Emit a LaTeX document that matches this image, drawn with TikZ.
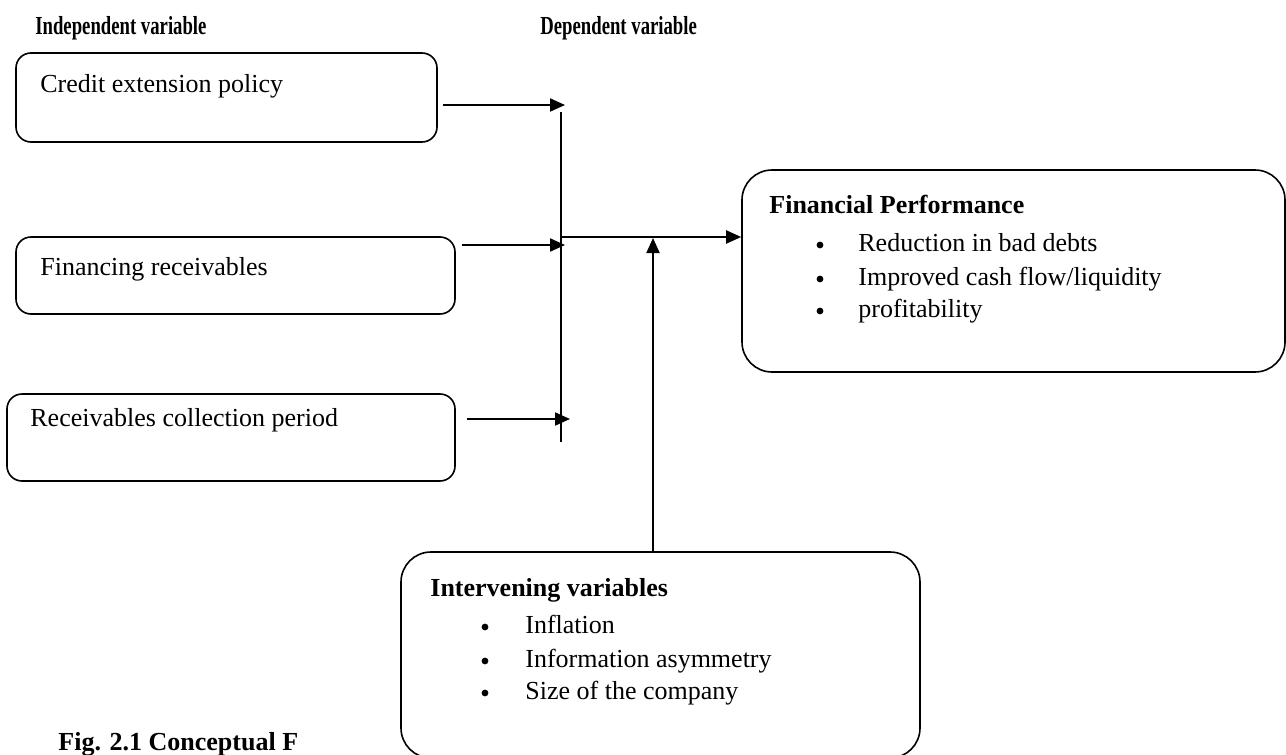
\documentclass[tikz,border=0pt]{standalone}
\usepackage{fontspec}
\setmainfont{Liberation Serif}
\usetikzlibrary{arrows.meta,fit}
\begin{document}
\begin{tikzpicture}[x=0.5pt,y=-0.5pt,
  box/.style={draw,line width=0.8pt,rounded corners=7.5pt,inner sep=0pt},
  bigbox/.style={draw,line width=0.8pt,rounded corners=15pt,inner sep=0pt,fill=white},
  arr/.style={line width=1pt,-{Triangle[length=7.5pt,width=6.5pt]}},
  txt/.style={anchor=base west,inner sep=0pt,font=\fontsize{13}{15}\selectfont},
  hdr/.style={anchor=base west,inner sep=0pt,font=\fontsize{13}{15}\selectfont\bfseries},
  dot/.style={circle,fill,inner sep=0pt,minimum size=3.4pt}]
\useasboundingbox (0,0) rectangle (1286,755);
% headers
\node[hdr] (h1) at (35,34) {\scalebox{0.72}[1]{Independent variable}};
\node[hdr] (h2) at (540,34) {\scalebox{0.72}[1]{Dependent variable}};
% independent boxes
\node[box,fit={(16,53) (437,142)}] (b1) {};
\node[txt] (t1) at (40,92) {Credit extension policy};
\node[box,fit={(16,237) (455,314)}] (b2) {};
\node[txt] (t2) at (40,275) {Financing receivables};
\node[box,fit={(7,394) (455,481)}] (b3) {};
\node[txt] (t3) at (30,426) {Receivables collection period};
% dependent box
\node[bigbox,fit={(742,170) (1285,372)}] (fin) {};
\node[hdr] (ft) at (769,213) {Financial Performance};
\node[dot] (fb1) at (820,245) {};
\node[txt] (f1) at (858,251) {Reduction in bad debts};
\node[dot] (fb2) at (820,279) {};
\node[txt] (f2) at (858,285) {Improved cash flow/liquidity};
\node[dot] (fb3) at (820,311) {};
\node[txt] (f3) at (858,317) {profitability};
% caption
\node[hdr] (cap) at (58,750) {Fig. 2.1 Conceptual F};
% intervening box
\node[bigbox,fit={(401,552) (920,758)}] (int) {};
\node[hdr] (it) at (430,596) {Intervening variables};
\node[dot] (ib1) at (485,627) {};
\node[txt] (i1) at (525,633) {Inflation};
\node[dot] (ib2) at (485,661) {};
\node[txt] (i2) at (525,667) {Information asymmetry};
\node[dot] (ib3) at (485,693) {};
\node[txt] (i3) at (525,699) {Size of the company};
% connectors
\coordinate (a1) at (565,105);
\coordinate (a2) at (565,245);
\coordinate (a3) at (570,419);
\coordinate (bustop) at (561,112);
\coordinate (busbot) at (561,442);
\coordinate (j) at (561,237);
\coordinate (m) at (653,238);
\draw[arr] ([xshift=2.5pt]b1.east |- a1) -- (a1);
\draw[arr] ([xshift=3pt]b2.east |- a2) -- (a2);
\draw[arr] ([xshift=5.5pt]b3.east |- a3) -- (a3);
\draw[line width=0.8pt] (bustop) -- (busbot);
\draw[arr] (j) -- (j -| fin.west);
\draw[arr] (m |- int.north) -- (m);
\end{tikzpicture}
\end{document}
